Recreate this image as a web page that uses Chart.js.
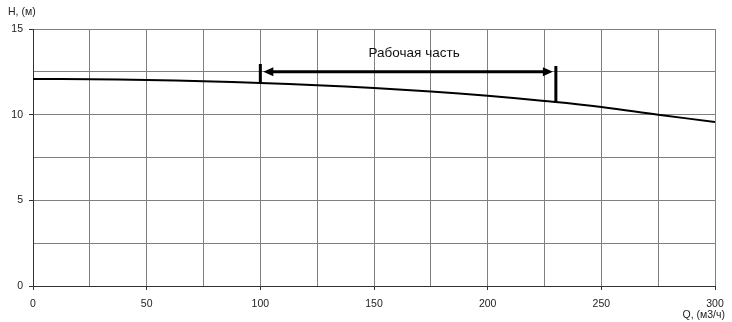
<!DOCTYPE html>
<html>
<head>
<meta charset="utf-8">
<script src="https://cdn.jsdelivr.net/npm/chart.js@4"></script>
<style>
  body { margin: 0; background: #fff; }
  #wrap { width: 732px; height: 322px; position: relative; }
</style>
</head>
<body>
<div id="wrap"><canvas id="pump-chart"></canvas></div>
<script>
// Q-H curve of the pump
const flowQ = [0, 25, 50, 75, 100, 125, 150, 175, 200, 225, 250, 275, 300];
const headH = [12.08, 12.07, 12.03, 11.95, 11.85, 11.72, 11.55, 11.35, 11.1, 10.8, 10.45, 10.0, 9.57];

// working range marker
const workStart = { q: 100, h: 11.85 };
const workEnd = { q: 230, h: 10.68 };
const workTop = 12.95;
const workArrowH = 12.5;
const workLabel = 'Рабочая часть';

const yLabelStep = 5;
const xLabelStep = 50;
const axisTitleY = 'H, (м)';
const axisTitleX = 'Q, (м3/ч)';

const FONT = '"Liberation Sans", Arial, sans-serif';

// Draws the working range arrow and axis titles
const workRangePlugin = {
    id: 'workRange',
    afterDatasetsDraw(chart) {
        const ctx = chart.ctx;
        const xs = chart.scales.x;
        const ys = chart.scales.y;
        const x1 = xs.getPixelForValue(workStart.q);
        const x2 = xs.getPixelForValue(workEnd.q);
        const yA = ys.getPixelForValue(workArrowH);
        ctx.save();
        ctx.strokeStyle = '#000';
        ctx.fillStyle = '#000';
        ctx.lineWidth = 3;
        // vertical bars
        ctx.beginPath();
        ctx.moveTo(x1, ys.getPixelForValue(workTop));
        ctx.lineTo(x1, ys.getPixelForValue(workStart.h));
        ctx.moveTo(x2, ys.getPixelForValue(workTop) + 2);
        ctx.lineTo(x2, ys.getPixelForValue(workEnd.h));
        ctx.stroke();
        // arrow shaft
        const head = 9;
        ctx.beginPath();
        ctx.moveTo(x1 + 3 + head, yA);
        ctx.lineTo(x2 - 3 - head, yA);
        ctx.stroke();
        // arrow heads
        ctx.beginPath();
        ctx.moveTo(x1 + 3, yA);
        ctx.lineTo(x1 + 3 + head + 1, yA - 4.5);
        ctx.lineTo(x1 + 3 + head + 1, yA + 4.5);
        ctx.closePath();
        ctx.fill();
        ctx.beginPath();
        ctx.moveTo(x2 - 3, yA);
        ctx.lineTo(x2 - 3 - head - 1, yA - 4.5);
        ctx.lineTo(x2 - 3 - head - 1, yA + 4.5);
        ctx.closePath();
        ctx.fill();
        // label
        ctx.font = '13.5px ' + FONT;
        ctx.fillStyle = '#111';
        ctx.textAlign = 'center';
        ctx.textBaseline = 'alphabetic';
        ctx.fillText(workLabel, (x1 + x2) / 2 + 6, yA - 15);
        // axis titles
        ctx.font = '10.5px ' + FONT;
        ctx.fillStyle = '#222';
        ctx.textAlign = 'left';
        ctx.fillText(axisTitleY, 8, 15);
        ctx.textAlign = 'right';
        ctx.fillText(axisTitleX, 725, 318);
        ctx.restore();
    }
};

const isMajor = (v, step) => Math.abs(v / step - Math.round(v / step)) < 1e-6;

new Chart(document.getElementById('pump-chart').getContext('2d'), {
    type: 'line',
    data: {
        labels: flowQ,
        datasets: [{
            data: flowQ.map((q, i) => ({ x: q, y: headH[i] })),
            borderColor: '#000',
            borderWidth: 2,
            pointRadius: 0,
            tension: 0.4,
            fill: false
        }]
    },
    options: {
        responsive: true,
        maintainAspectRatio: false,
        animation: false,
        events: [],
        layout: { padding: { top: 29, right: 17, left: 0, bottom: 0 } },
        plugins: { legend: { display: false }, tooltip: { enabled: false } },
        scales: {
            x: {
                type: 'linear',
                min: 0,
                max: 300,
                afterFit(scale) { scale.height = 36; },
                ticks: {
                    stepSize: 25,
                    maxRotation: 0,
                    autoSkip: false,
                    padding: 8,
                    color: '#222',
                    font: { family: FONT, size: 10.5 },
                    callback: v => isMajor(v, xLabelStep) ? v : ''
                },
                grid: {
                    color: '#808080',
                    tickLength: 4,
                    tickColor: c => isMajor(c.tick.value, xLabelStep) ? '#333' : 'rgba(0,0,0,0)'
                },
                border: { color: '#333', width: 1 }
            },
            y: {
                min: 0,
                max: 15,
                afterFit(scale) { scale.width = 33; },
                ticks: {
                    stepSize: 2.5,
                    autoSkip: false,
                    padding: 6,
                    color: '#222',
                    font: { family: FONT, size: 10.5 },
                    callback: v => isMajor(v, yLabelStep) ? v : ''
                },
                grid: {
                    color: '#808080',
                    tickLength: 4,
                    tickColor: c => isMajor(c.tick.value, yLabelStep) ? '#333' : 'rgba(0,0,0,0)'
                },
                border: { color: '#333', width: 1 }
            }
        }
    },
    plugins: [workRangePlugin]
});
</script>
</body>
</html>
